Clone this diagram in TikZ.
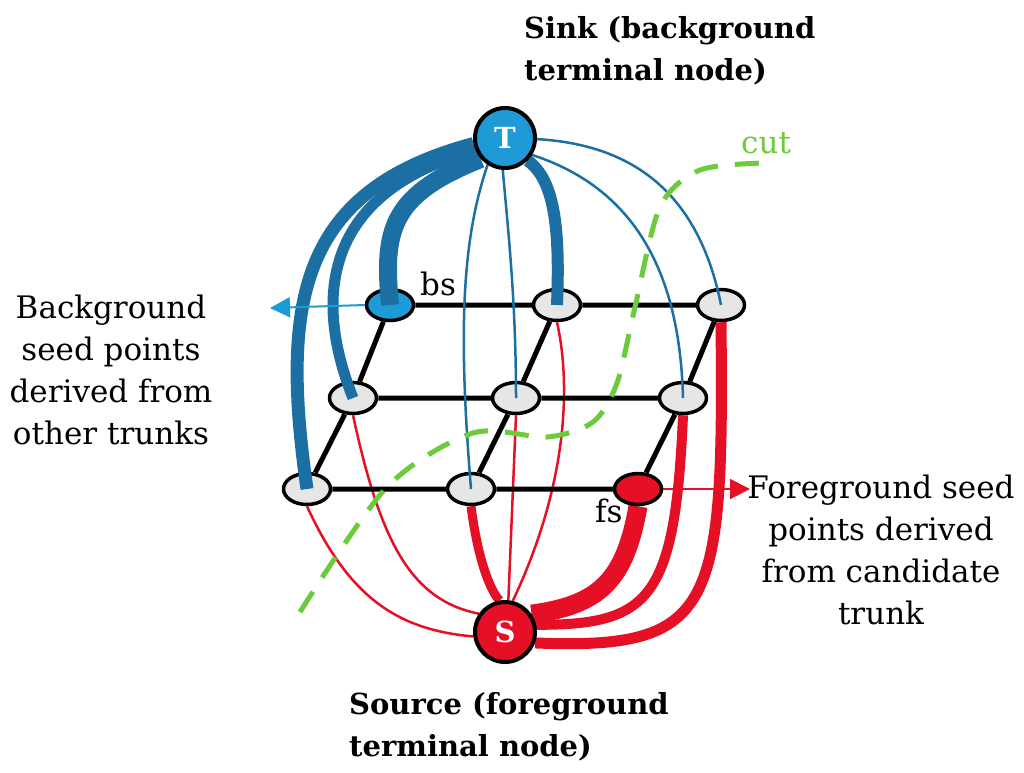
\documentclass[tikz,border=0pt]{standalone}
\usepackage{fontspec}
\setmainfont{DejaVu Serif}
\usetikzlibrary{shapes.geometric,arrows.meta}
\definecolor{tblue}{HTML}{1E9AD6}
\definecolor{lblue}{HTML}{1B6FA3}
\definecolor{sred}{HTML}{E50F26}
\definecolor{cutgreen}{HTML}{6CCB3A}
\definecolor{seedgray}{HTML}{E6E6E6}
\pgfdeclarelayer{back}
\pgfdeclarelayer{front}
\pgfsetlayers{back,main,front}
\begin{document}
\begin{tikzpicture}[x=1pt, y=-1pt, line join=round,
	term/.style={circle, draw, line width=4, minimum size=60pt, inner sep=0pt, text=white, font=\fontsize{29}{29}\selectfont\bfseries},
	seed/.style={ellipse, draw, line width=3.5, fill=seedgray, minimum width=47pt, minimum height=31pt, inner sep=0pt},
	tlink/.style={lblue, line width=#1},
	slink/.style={sred, line width=#1},
	grid/.style={line width=5},
	cut/.style={cutgreen, line width=5, dash pattern=on 24pt off 17pt},
	lbl/.style={inner sep=0pt, font=\fontsize{31}{42}\selectfont},
	bold/.style={inner sep=0pt, font=\fontsize{29}{42}\selectfont\bfseries, align=left, anchor=base west},
	tip/.style={line width=2, -{Triangle[length=20pt,width=20pt]}}]
	\useasboundingbox (0,0) rectangle (1024,772);
	\begin{pgfonlayer}{front}
		\node[term, fill=tblue] (T) at (505,138) {T};
		\node[term, fill=sred] (S) at (505,632) {S};
	\end{pgfonlayer}
	\foreach \n/\x/\y in {A2/557/305, A3/721/305, B1/353/398, B2/516/398, B3/683/398, C1/307/489, C2/471/489}{
		\node[seed] (\n) at (\x,\y) {};
	}
	\node[seed, fill=tblue] (A1) at (390,305) {};
	\node[seed, fill=sred] (C3) at (638,489) {};
	\begin{pgfonlayer}{back}
		\draw[slink=2.5] (C1.south) .. controls (350,600) and (400,630) .. (S.188);
		\draw[slink=2.5] (B1.south) .. controls (380,540) and (410,600) .. (S.145);
		\draw[slink=9] (C2.south) .. controls (478,560) and (490,590) .. (S.100);
		\draw[slink=2.5] (B2.south) -- (S.84);
		\draw[slink=2.5] (A2.south) .. controls (570,380) and (570,480) .. (S.76);
		\draw[slink=19] (C3.south) .. controls (625,580) and (600,605) .. (S.34);
		\draw[slink=10] (B3.south) .. controls (675,600) and (650,625) .. (S.13);
		\draw[slink=11] (A3.south) .. controls (724,610) and (715,650) .. (S.-20);
		\draw[grid] (A1)--(A2)--(A3) (B1)--(B2)--(B3) (C1)--(C2)--(C3)
			(A1)--(B1)--(C1) (A2)--(B2)--(C2) (A3)--(B3)--(C3);
	\end{pgfonlayer}
	\draw[tlink=13] (T.190) .. controls (300,190) and (280,300) .. (C1.center);
	\draw[tlink=11] (T.203) .. controls (330,190) and (310,290) .. (B1.center);
	\draw[tlink=18] (T.221) .. controls (390,195) and (383,230) .. (A1.center);
	\draw[tlink=2.5] (T.237) .. controls (462,240) and (458,330) .. (C2.center);
	\draw[tlink=2.5] (T.266) .. controls (508,230) and (516,300) .. (B2.center);
	\draw[tlink=12] (T.315) .. controls (555,180) and (560,230) .. (A2.center);
	\draw[tlink=2.5] (T.328) .. controls (640,190) and (680,280) .. (B3.center);
	\draw[tlink=2.5] (T.358) .. controls (640,145) and (700,200) .. (A3.center);
	\coordinate (bsTip) at (270,308);
	\coordinate (fsTip) at (750,489);
	\draw[tip, tblue] (A1.west) -- (bsTip);
	\draw[tip, sred] (C3.east) -- (fsTip);
	\draw[cut] plot[smooth] coordinates {(300,612) (387,487) (473,433) (547,437) (593,422) (617,383) (635,307) (660,207) (700,170) (765,163)};
	\node[bold] (sink) at (524,80) {Sink (background\\terminal node)};
	\node[lbl, align=center, anchor=base] (bgtext) at (111,444) {Background\\seed points\\derived from\\other trunks};
	\node[lbl, align=center, anchor=base] (fgtext) at (881,624) {Foreground seed\\points derived\\from candidate\\trunk};
	\node[bold] (source) at (349,756) {Source (foreground\\terminal node)};
	\node[lbl, anchor=base west] (bs) at (420,295) {bs};
	\node[lbl, anchor=base west] (fs) at (595,522) {fs};
	\node[lbl, anchor=base west, text=cutgreen] (cutlbl) at (741,153) {cut};
\end{tikzpicture}
\end{document}
